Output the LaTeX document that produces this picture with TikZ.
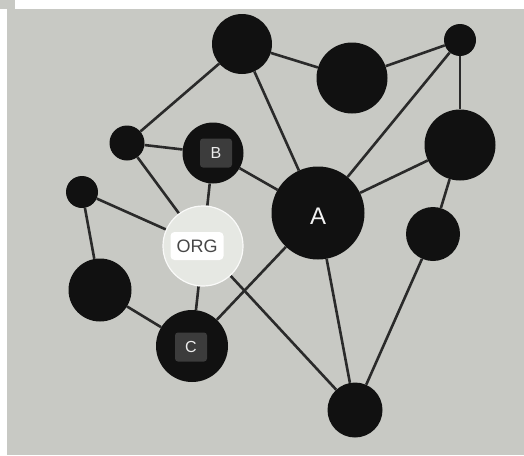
\documentclass[tikz,border=0pt]{standalone}
\usepackage{fontspec}
\setmainfont{Liberation Sans}
\usetikzlibrary{backgrounds}
\definecolor{bg}{HTML}{C8C9C4}
\definecolor{edgecol}{HTML}{2A2A2A}
\definecolor{nodecol}{HTML}{111111}
\definecolor{orgfill}{HTML}{E6E8E3}
\definecolor{tagcol}{HTML}{3C3C3C}
\begin{document}
\begin{tikzpicture}[x=1pt,y=-1pt,
  dot/.style={circle,fill=nodecol,draw=none,inner sep=0pt,minimum size=#1},
  conn/.style={draw=edgecol,line width=2.6pt},
  tag/.style={rounded corners=3pt,fill=tagcol,text=white!85!gray,inner sep=0pt,minimum width=32pt,minimum height=29pt,font=\fontsize{16}{16}\selectfont},
]
\useasboundingbox (0,0) rectangle (524,455);
% nodes
\node[dot=60pt] (n1) at (242,44) {};
\node[dot=71pt] (n2) at (352,78) {};
\node[dot=32pt] (n3) at (460,40) {};
\node[dot=71pt] (n4) at (460,145) {};
\node[dot=35pt] (n5) at (127,143) {};
\node[dot=61pt] (b) at (213,153) {};
\node[dot=93pt] (a) at (318,213) {};
\node[dot=32pt] (n6) at (82,192) {};
\node[circle,fill=orgfill,draw=white!80!orgfill,line width=1.2pt,inner sep=0pt,minimum size=80pt] (org) at (203,246) {};
\node[dot=54pt] (n7) at (433,234) {};
\node[dot=63pt] (n8) at (100,290) {};
\node[dot=72pt] (c) at (192,346) {};
\node[dot=55pt] (n9) at (355,410) {};
% labels
\node[text=white!90!gray,font=\fontsize{24}{24}\selectfont] (alab) at (318,216) {A};
\node[tag] (blab) at (216,153) {B};
\node[tag] (clab) at (191,347) {C};
\node[rounded corners=4pt,fill=white,text=black!72,inner sep=0pt,minimum width=53pt,minimum height=28pt,font=\fontsize{18}{18}\selectfont] (olab) at (197,246) {ORG};
% background and edges
\begin{scope}[on background layer]
\fill[bg] (0,0) rectangle (524,455);
\fill[white] (15,0) rectangle (524,9);
\fill[white] (0,9) rectangle (7,455);
\foreach \u/\v in {n1/n5,n1/n2,n1/a,n2/n3,n3/n4,n3/a,n4/a,n4/n7,n7/n9,a/n9,a/c,a/b,n5/b,n5/org,n6/org,n6/n8,n8/c,org/b,org/c,org/n9}
  \draw[conn] (\u) -- (\v);
\end{scope}
\end{tikzpicture}
\end{document}
